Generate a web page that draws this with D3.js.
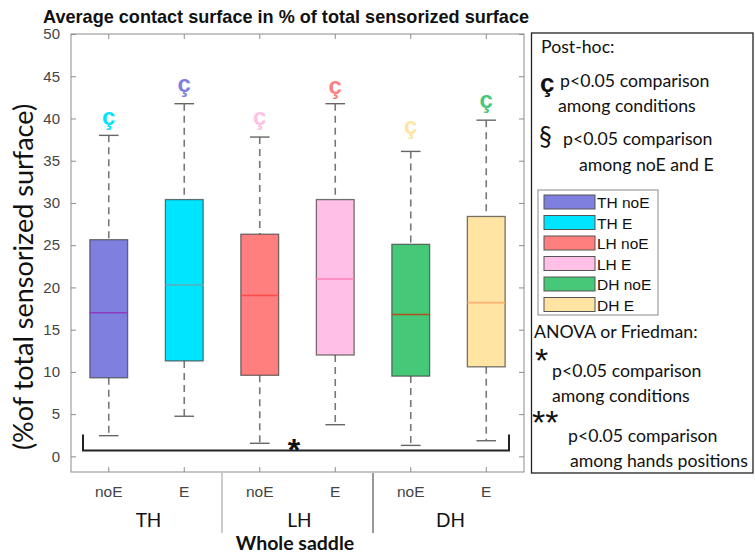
<!DOCTYPE html>
<html><head><meta charset="utf-8">
<script src="https://cdn.jsdelivr.net/npm/d3@7"></script>
<style>body{margin:0;background:#fff}svg{display:block}</style>
</head><body>
<svg id="c" width="755" height="555"></svg>
<script>
const categories = ["TH noE","TH E","LH noE","LH E","DH noE","DH E"];
const conditionLabels = ["noE","E","noE","E","noE","E"];
const groupLabels = ["TH","LH","DH"];
const whiskerLow  = [2.45, 4.75, 1.55, 3.75, 1.3, 1.85];
const q1          = [9.3, 11.3, 9.6, 12.0, 9.5, 10.6];
const median      = [17.0, 20.3, 19.05, 21.0, 16.8, 18.2];
const q3          = [25.65, 30.4, 26.3, 30.4, 25.1, 28.4];
const whiskerHigh = [38.0, 41.75, 37.8, 41.75, 36.1, 39.8];
const markerValue = [40.0, 43.9, 40.0, 43.6, 38.9, 42.0];
const yTicks = [0,5,10,15,20,25,30,35,40,45,50];
const boxColors   = ["#7f7fe0","#00e5ff","#ff7f7f","#ffbfe6","#45c878","#ffe4a3"];
const medianColors= ["#8a3fc0","#4fb4c4","#ff4848","#ff80b8","#b0501c","#ffb070"];
const markerColors= ["#00e5ff","#7f7fe0","#ffbfe6","#ff7f7f","#ffe4a3","#45c878"];

const svg = d3.select("#c");
const L=71, R=524, T=34, B=472;
const x = d3.scaleBand().domain(categories).range([L,R]);
const y = d3.scaleLinear().domain([-1.85,50]).range([B,T]);
const arial = "Liberation Sans, Arial, sans-serif";
const lf = "Lato, Open Sans, sans-serif";

// title
svg.append("text").attr("x",43).attr("y",23).attr("font-family",arial)
  .attr("font-weight","bold").attr("font-size",18.1).attr("fill","#111")
  .text("Average contact surface in % of total sensorized surface");

// frame
svg.append("rect").attr("x",L).attr("y",T).attr("width",R-L).attr("height",B-T)
  .attr("fill","none").attr("stroke","#8c8c8c").attr("stroke-width",1);

// y ticks left & right
const ya = d3.axisLeft(y).tickValues(yTicks).tickSize(-5).tickPadding(11);
const gy = svg.append("g").attr("transform",`translate(${L},0)`).call(ya);
gy.select(".domain").remove();
gy.selectAll("line").attr("stroke","#8c8c8c");
gy.selectAll("text").attr("font-family",arial).attr("font-size",15).attr("fill","#444");
const yr = d3.axisRight(y).tickValues(yTicks).tickSize(-5).tickFormat("");
const gyr = svg.append("g").attr("transform",`translate(${R},0)`).call(yr);
gyr.select(".domain").remove();
gyr.selectAll("line").attr("stroke","#8c8c8c");

// x ticks top & bottom
const xb = d3.axisBottom(x).tickSize(-5).tickPadding(14).tickFormat((d,i)=>conditionLabels[i]);
const gxb = svg.append("g").attr("transform",`translate(0,${B})`).call(xb);
gxb.select(".domain").remove();
gxb.selectAll("line").attr("stroke","#8c8c8c");
gxb.selectAll("text").attr("font-family",arial).attr("font-size",15.5).attr("fill","#444");
const xt = d3.axisTop(x).tickSize(-5).tickFormat("");
const gxt = svg.append("g").attr("transform",`translate(0,${T})`).call(xt);
gxt.select(".domain").remove();
gxt.selectAll("line").attr("stroke","#8c8c8c");

// y label
svg.append("text").attr("transform",`translate(33,277) rotate(-90)`).attr("text-anchor","middle")
  .attr("font-family",lf).attr("font-size",27).attr("fill","#111")
  .text("(%of total sensorized surface)");

const bw = x.bandwidth()*0.5, cw = x.bandwidth()*0.26;
const g = svg.append("g");
categories.forEach((c,i)=>{
  const cx = x(c)+x.bandwidth()/2;
  g.append("line").attr("x1",cx).attr("x2",cx).attr("y1",y(whiskerHigh[i])).attr("y2",y(q3[i]))
    .attr("stroke","#777").attr("stroke-width",1.6).attr("stroke-dasharray","7,5");
  g.append("line").attr("x1",cx).attr("x2",cx).attr("y1",y(q1[i])).attr("y2",y(whiskerLow[i]))
    .attr("stroke","#777").attr("stroke-width",1.6).attr("stroke-dasharray","7,5");
  [whiskerHigh[i],whiskerLow[i]].forEach(v=>{
    g.append("line").attr("x1",cx-cw/2).attr("x2",cx+cw/2).attr("y1",y(v)).attr("y2",y(v))
      .attr("stroke","#666").attr("stroke-width",1.4);
  });
  g.append("rect").attr("x",cx-bw/2).attr("y",y(q3[i])).attr("width",bw).attr("height",y(q1[i])-y(q3[i]))
    .attr("fill",boxColors[i]).attr("stroke","#444").attr("stroke-opacity",0.75).attr("stroke-width",1.3);
  g.append("line").attr("x1",cx-bw/2).attr("x2",cx+bw/2).attr("y1",y(median[i])).attr("y2",y(median[i]))
    .attr("stroke",medianColors[i]).attr("stroke-width",1.6);
  g.append("text").attr("x",cx).attr("y",y(markerValue[i])).attr("text-anchor","middle")
    .attr("dominant-baseline","middle").attr("font-family",arial)
    .attr("font-weight","bold").attr("font-size",24).attr("fill",markerColors[i]).text("ç");
});

// significance bracket
const bx1 = x(categories[0])+12, bx2 = x(categories[5])+x.bandwidth()-15;
const byv = y(0.7), byTop = y(2.6);
svg.append("path").attr("d",`M${bx1},${byTop} L${bx1},${byv} L${bx2},${byv} L${bx2},${byTop}`)
  .attr("fill","none").attr("stroke","#222").attr("stroke-width",2);
svg.append("text").attr("x",294).attr("y",byv+11).attr("text-anchor","middle")
  .attr("font-family",arial).attr("font-weight","bold").attr("font-size",32).attr("fill","#111").text("*");

// group labels & separators
groupLabels.forEach((gname,k)=>{
  const a = x(categories[2*k]), b = x(categories[2*k+1])+x.bandwidth();
  svg.append("text").attr("x",(a+b)/2+2).attr("y",527).attr("text-anchor","middle")
    .attr("font-family",lf).attr("font-size",19).attr("fill","#111").text(gname);
  if(k>0) svg.append("line").attr("x1",a).attr("x2",a).attr("y1",B+1).attr("y2",533)
    .attr("stroke", k===1?"#999":"#333").attr("stroke-width",1);
});
svg.append("text").attr("x",295).attr("y",550).attr("text-anchor","middle")
  .attr("font-family",lf).attr("font-weight","bold").attr("font-size",19.5).attr("fill","#111")
  .text("Whole saddle");

// legend panel
const lg = svg.append("g");
lg.append("rect").attr("x",531.5).attr("y",33).attr("width",221.5).attr("height",440)
  .attr("fill","#fff").attr("stroke","#222").attr("stroke-width",1.3);
function t(xx,yy,s,size,extra){const e=lg.append("text").attr("x",xx).attr("y",yy).attr("font-family",lf)
  .attr("font-size",size||17.7).attr("fill","#111").text(s); if(extra) extra(e); return e;}
t(541,53,"Post-hoc:");
t(540,92,"ç",26,e=>e.attr("font-weight","bold").attr("font-family",arial));
t(560,87,"p<0.05 comparison");
t(558,112,"among conditions");
t(539,146,"§",26);
t(563,145,"p<0.05 comparison");
t(579,171,"among noE and E");
// color legend
lg.append("rect").attr("x",538).attr("y",190).attr("width",120).attr("height",125)
  .attr("fill","#fff").attr("stroke","#888").attr("stroke-width",1);
categories.forEach((c,i)=>{
  const yy = 195 + i*20.5;
  lg.append("rect").attr("x",544).attr("y",yy).attr("width",51).attr("height",14)
    .attr("fill",boxColors[i]).attr("stroke","#555").attr("stroke-width",1);
  lg.append("text").attr("x",597).attr("y",yy+13).attr("font-family",arial)
    .attr("font-size",15.5).attr("fill","#111").text(c);
});
t(534,338,"ANOVA or Friedman:");
t(535,372,"*",34,e=>e.attr("font-family",arial));
t(552,377,"p<0.05 comparison");
t(552,402,"among conditions");
t(532,434,"**",34,e=>e.attr("font-family",arial));
t(568,442,"p<0.05 comparison");
t(570,467,"among hands positions");
</script>
</body></html>
